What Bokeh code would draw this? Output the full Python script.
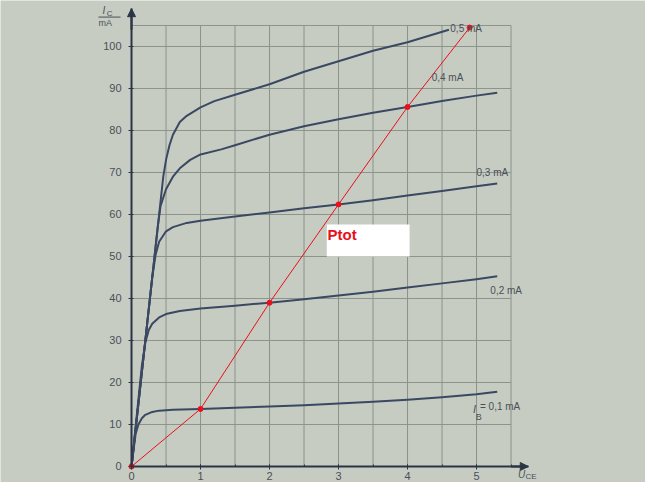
from bokeh.plotting import figure
from bokeh.models import Range1d, FixedTicker, Label, BoxAnnotation, Arrow, NormalHead
from bokeh.embed import file_html
from bokeh.resources import INLINE

# ---- data ----
u_01 = [0, 0.03, 0.06, 0.1, 0.15, 0.2, 0.3, 0.4, 0.6, 1, 1.5, 2, 2.5, 3, 3.5, 4, 4.5, 5, 5.3]
i_01 = [0, 4, 7.8, 10, 11.5, 12.3, 13, 13.3, 13.5, 13.7, 14, 14.3, 14.6, 15, 15.4, 15.9, 16.5, 17.2, 17.8]

u_02 = [0, 0.05, 0.1, 0.15, 0.2, 0.25, 0.3, 0.4, 0.5, 0.7, 1, 1.5, 2, 2.5, 3, 3.5, 4, 4.5, 5, 5.3]
i_02 = [0, 8, 16, 24, 29.5, 32.5, 34, 35.5, 36.3, 37, 37.6, 38.3, 39, 39.8, 40.7, 41.6, 42.6, 43.6, 44.6, 45.3]

u_03 = [0, 0.1, 0.2, 0.3, 0.35, 0.4, 0.5, 0.6, 0.8, 1, 1.5, 2, 2.5, 3, 3.5, 4, 4.5, 5, 5.3]
i_03 = [0, 15, 30, 45, 50.5, 53.5, 56, 57, 58, 58.5, 59.5, 60.5, 61.5, 62.4, 63.4, 64.5, 65.6, 66.7, 67.4]

u_04 = [0, 0.1, 0.2, 0.3, 0.38, 0.42, 0.5, 0.6, 0.7, 0.85, 1, 1.3, 1.5, 2, 2.5, 3, 3.5, 4, 4.5, 5, 5.3]
i_04 = [0, 15, 30, 45, 57, 62, 66, 69, 71, 73, 74.3, 75.5, 76.5, 79, 81, 82.7, 84.2, 85.6, 87, 88.3, 89]

u_05 = [0, 0.1, 0.2, 0.3, 0.4, 0.46, 0.5, 0.55, 0.6, 0.7, 0.8, 1, 1.2, 1.5, 2, 2.5, 3, 3.5, 4, 4.3, 4.6]
i_05 = [0, 15, 30, 45, 60, 69, 73, 76.5, 79, 82, 83.5, 85.5, 87, 88.5, 91, 94, 96.5, 99, 101, 102.5, 104]

u_ptot = [0, 1, 2, 3, 4, 4.9]
i_ptot = [0, 13.7, 39, 62.4, 85.6, 104.5]

x_ticks = [0, 1, 2, 3, 4, 5]
y_ticks = [0, 10, 20, 30, 40, 50, 60, 70, 80, 90, 100]
x_grid = [0, 0.5, 1, 1.5, 2, 2.5, 3, 3.5, 4, 4.5, 5, 5.5]
y_grid = [10, 20, 30, 40, 50, 60, 70, 80, 90, 100, 105]

curve_labels = ["0,5 mA", "0,4 mA", "0,3 mA", "0,2 mA", "= 0,1 mA"]

BG = "#c6ccc2"
GRID = "#8c938b"
CURVE = "#3b4862"
AXIS = "#2b3444"
RED = "#e8101a"
TXT = "#4a5058"
FONT = "Liberation Sans"

p = figure(width=645, height=482, output_backend="svg", toolbar_location=None,
           x_range=Range1d(-1.899, 7.449), y_range=Range1d(-3.81, 110.95),
           min_border_left=0, min_border_right=0, min_border_top=0, min_border_bottom=0,
           background_fill_color=BG, border_fill_color=BG, outline_line_color=None)

p.xgrid.visible = False
p.ygrid.visible = False

# paper grid
p.segment(x0=x_grid, y0=[0] * len(x_grid), x1=x_grid, y1=[105] * len(x_grid),
          line_color=GRID, line_width=1)
p.segment(x0=[0] * len(y_grid), y0=y_grid, x1=[5.5] * len(y_grid), y1=y_grid,
          line_color=GRID, line_width=1)

for u, i in [(u_01, i_01), (u_02, i_02), (u_03, i_03), (u_04, i_04), (u_05, i_05)]:
    p.line(u, i, line_color=CURVE, line_width=2, line_join="round")

p.line(u_ptot, i_ptot, line_color=RED, line_width=1)
p.scatter(u_ptot, i_ptot, size=5, color=RED)

# axes fixed at the origin, inside the frame
p.xaxis.fixed_location = 0
p.yaxis.fixed_location = 0
p.xaxis.bounds = (0, 5.75)
p.yaxis.bounds = (0, 109)
for ax in (p.xaxis, p.yaxis):
    ax.axis_line_color = AXIS
    ax.axis_line_width = 2
    ax.major_tick_line_color = AXIS
    ax.minor_tick_line_color = AXIS
    ax.major_label_text_color = TXT
    ax.major_label_text_font = FONT
    ax.major_label_text_font_size = "11px"
    ax.major_tick_in = 2
    ax.major_tick_out = 3
    ax.minor_tick_in = 2
    ax.minor_tick_out = 0
p.xaxis.ticker = FixedTicker(ticks=x_ticks, minor_ticks=x_grid)
p.yaxis.ticker = FixedTicker(ticks=y_ticks, minor_ticks=[])
p.xaxis.major_label_standoff = 3
p.yaxis.major_label_standoff = 7

p.add_layout(Arrow(end=NormalHead(size=8, fill_color=AXIS, line_color=AXIS),
                   x_start=0, y_start=104, x_end=0, y_end=109,
                   line_color=AXIS, line_width=2))
p.add_layout(Arrow(end=NormalHead(size=8, fill_color=AXIS, line_color=AXIS),
                   x_start=5.5, y_start=0, x_end=5.75, y_end=0,
                   line_color=AXIS, line_width=2))

# curve labels
lab_pos = [(4.62, 104.3), (4.35, 92.5), (5.0, 70.0), (5.2, 42.0), (5.05, 14.3)]
for txt, (x, y) in zip(curve_labels, lab_pos):
    p.add_layout(Label(x=x, y=y, text=txt, text_font=FONT, text_font_size="10px",
                       text_color=TXT, text_baseline="middle"))
p.add_layout(Label(x=4.95, y=13.8, text="I", text_font=FONT, text_font_size="11px",
                   text_font_style="italic", text_color=TXT, text_baseline="middle"))
p.add_layout(Label(x=4.99, y=11.9, text="B", text_font=FONT, text_font_size="9px",
                   text_color=TXT, text_baseline="middle"))

# Ptot box
p.add_layout(BoxAnnotation(left=2.83, right=4.03, bottom=50, top=57.6,
                           fill_color="white", fill_alpha=1, line_alpha=0))
p.add_layout(Label(x=2.84, y=57.2, text="Ptot", text_font=FONT, text_font_size="15px",
                   text_font_style="bold", text_color=RED, text_baseline="top"))

# axis titles
p.add_layout(Label(x=-0.42, y=108.6, text="I", text_font=FONT, text_font_size="10px",
                   text_font_style="italic", text_color=TXT, text_baseline="middle"))
p.add_layout(Label(x=-0.36, y=107.9, text="C", text_font=FONT, text_font_size="8px",
                   text_color=TXT, text_baseline="middle"))
p.segment(x0=[-0.48], y0=[107.0], x1=[-0.16], y1=[107.0], line_color=TXT, line_width=1)
p.add_layout(Label(x=-0.48, y=105.5, text="mA", text_font=FONT, text_font_size="9px",
                   text_color=TXT, text_baseline="middle"))
p.add_layout(Label(x=5.6, y=-1.8, text="U", text_font=FONT, text_font_size="10px",
                   text_font_style="italic", text_color=TXT, text_baseline="middle"))
p.add_layout(Label(x=5.71, y=-2.3, text="CE", text_font=FONT, text_font_size="8px",
                   text_color=TXT, text_baseline="middle"))

open("out.html", "w").write(file_html(p, INLINE))
